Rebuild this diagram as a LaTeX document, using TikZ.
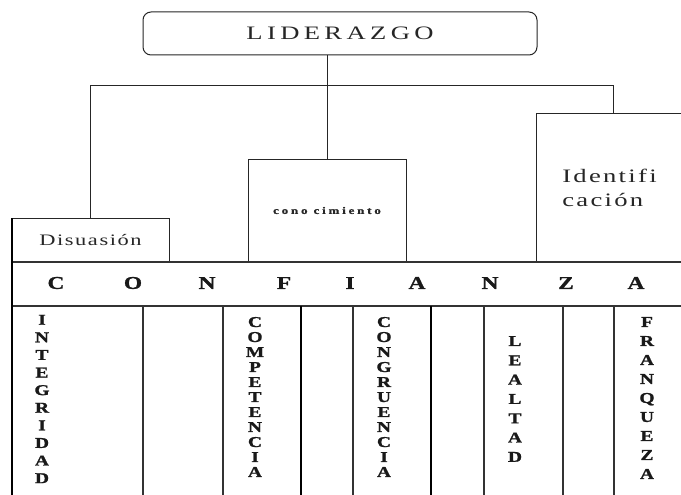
\documentclass[tikz,border=0pt]{standalone}
\usepackage{fontspec}
\setmainfont{Liberation Serif}
\newfontfamily\widerm{Liberation Serif}[FakeStretch=1.4]
\newfontfamily\widebf{Liberation Serif Bold}[FakeStretch=1.3, FakeBold=1.2]
\begin{document}
\begin{tikzpicture}[x=1pt,y=-1pt,
  frame/.style={draw=black!85, line width=1pt},
  rule/.style={draw=black!80, line width=1.3pt},
  heavy/.style={draw=black, line width=1.9pt},
  boxtext/.style={text=black!85, inner sep=0pt},
  bigletter/.style={text=black!90, inner sep=0pt,
    font=\widebf\fontsize{18}{20}\selectfont},
  colword/.style={text=black!90, inner sep=0pt, align=center,
    font=\widebf\fontsize{15}{#1}\selectfont}
]
\clip (0,0) rectangle (681,495);
\fill[white] (0,0) rectangle (681,495);

% head box
\node[frame, boxtext, rounded corners=8pt, minimum width=394pt, minimum height=43pt,
  font=\widerm\fontsize{19}{22}\selectfont\addfontfeatures{LetterSpace=23}]
  (lid) at (340,33.5) {LIDERAZGO};

% three branches
\node[frame, boxtext, minimum width=157pt, minimum height=44pt,
  font=\widerm\fontsize{16}{18}\selectfont\addfontfeatures{LetterSpace=10}]
  (disu) at (90.5,240) {Disuasión};
\node[frame, boxtext, minimum width=158pt, minimum height=103pt,
  font=\widebf\fontsize{10}{12}\selectfont\addfontfeatures{LetterSpace=28}]
  (cono) at (327,210.5) {cono cimiento};
\node[frame, boxtext, minimum width=147pt, minimum height=148pt, align=left,
  font=\widerm\fontsize{19}{24}\selectfont\addfontfeatures{LetterSpace=12}]
  (iden) at (609.5,188) {Identifi\\cación};

% connectors
\coordinate (bus) at (327,86);
\coordinate (rdrop) at (613,86);
\draw[frame] (lid.south -| bus) -- (cono.north -| bus);
\draw[frame] (disu.north) |- (rdrop) -- (rdrop |- iden.north);

% CONFIANZA band
\draw[rule] (12,262) -- (690,262);
\draw[rule] (12,306) -- (690,306);
\draw[heavy] (12,218) -- (12,500);
\foreach \x in {143,223,353,484,563,614}
  \draw[rule] (\x,306) -- (\x,500);
\foreach \x in {301,431}
  \draw[heavy] (\x,306) -- (\x,500);

\foreach \x/\l in {56/C,133/O,207/N,284/F,350/I,417/A,490/N,566/Z,636/A}
  \node[bigletter] (band\x) at (\x,283) {\l};

% columns of values
\node[colword=17.6] (integ) at (42,399) {I\\N\\T\\E\\G\\R\\I\\D\\A\\D};
\node[colword=15] (compe) at (255,397) {C\\O\\M\\P\\E\\T\\E\\N\\C\\I\\A};
\node[colword=15] (congr) at (384,397) {C\\O\\N\\G\\R\\U\\E\\N\\C\\I\\A};
\node[colword=19.3] (leal) at (515,399) {L\\E\\A\\L\\T\\A\\D};
\node[colword=19] (franq) at (647,398) {F\\R\\A\\N\\Q\\U\\E\\Z\\A};
\end{tikzpicture}
\end{document}
